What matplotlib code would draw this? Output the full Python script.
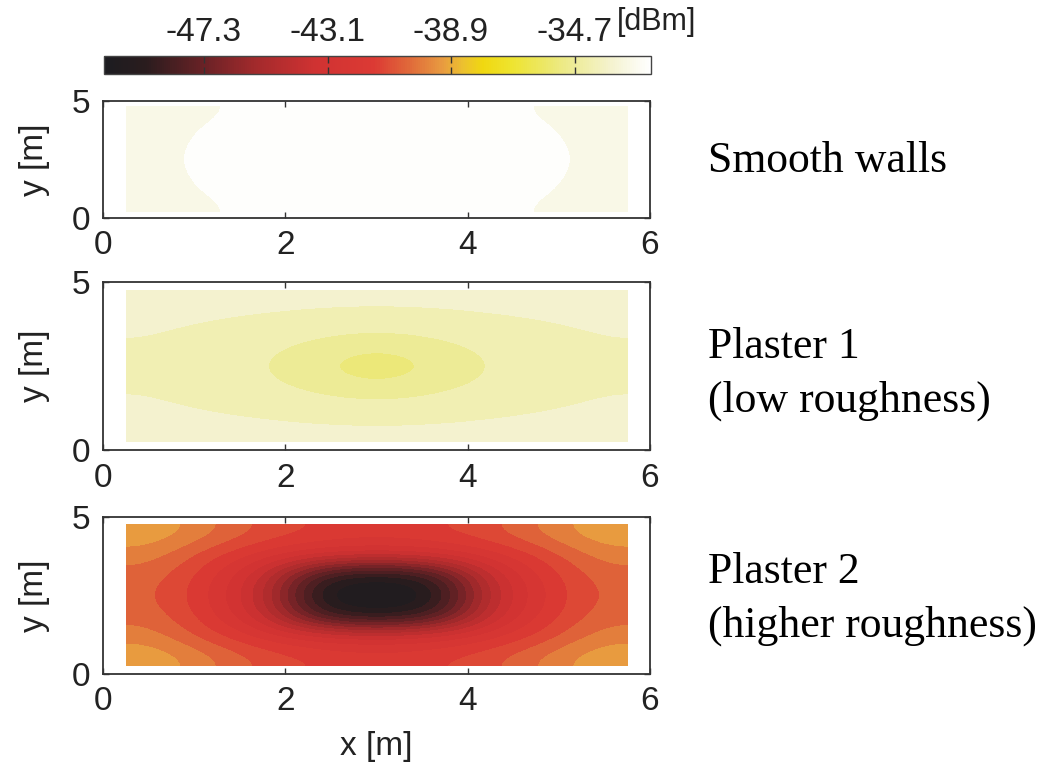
import numpy as np
import matplotlib
matplotlib.use("Agg")
import matplotlib.pyplot as plt
from matplotlib.colors import LinearSegmentedColormap, BoundaryNorm, Normalize
from matplotlib.cm import ScalarMappable

plt.rcParams['font.family'] = ['Liberation Sans', 'DejaVu Sans']

# colour scale [dBm]
vmin, vmax = -50.7, -32.1
cbar_ticks = [-47.3, -43.1, -38.9, -34.7]

# simulated area inside the room [m]
room_x = [0.25, 5.75]
room_y = [0.25, 4.75]

# received power, 9 x 7 cells, rows from bottom to top [dBm]
smooth = [
    [-33.00, -32.76, -32.55, -32.47, -32.45, -32.47, -32.55, -32.76, -33.00],
    [-32.95, -32.65, -32.50, -32.44, -32.42, -32.44, -32.50, -32.65, -32.95],
    [-32.92, -32.58, -32.46, -32.42, -32.40, -32.42, -32.46, -32.58, -32.92],
    [-32.90, -32.55, -32.45, -32.40, -32.40, -32.40, -32.45, -32.55, -32.90],
    [-32.92, -32.58, -32.46, -32.42, -32.40, -32.42, -32.46, -32.58, -32.92],
    [-32.95, -32.65, -32.50, -32.44, -32.42, -32.44, -32.50, -32.65, -32.95],
    [-33.00, -32.76, -32.55, -32.47, -32.45, -32.47, -32.55, -32.76, -33.00],
]
plaster1 = [
    [-33.55, -33.65, -33.72, -33.78, -33.80, -33.78, -33.72, -33.65, -33.55],
    [-33.85, -34.00, -34.15, -34.28, -34.33, -34.28, -34.15, -34.00, -33.85],
    [-34.00, -34.25, -34.45, -34.70, -34.95, -34.70, -34.45, -34.25, -34.00],
    [-34.10, -34.35, -34.55, -35.10, -36.00, -35.10, -34.55, -34.35, -34.10],
    [-34.00, -34.25, -34.45, -34.70, -34.95, -34.70, -34.45, -34.25, -34.00],
    [-33.85, -34.00, -34.15, -34.28, -34.33, -34.28, -34.15, -34.00, -33.85],
    [-33.55, -33.65, -33.72, -33.78, -33.80, -33.78, -33.72, -33.65, -33.55],
]
plaster2 = [
    [-39.0, -40.0, -41.0, -41.5, -41.7, -41.5, -41.0, -40.0, -39.0],
    [-39.8, -41.2, -42.3, -43.0, -43.3, -43.0, -42.3, -41.2, -39.8],
    [-40.4, -41.8, -43.8, -48.6, -49.6, -48.6, -43.8, -41.8, -40.4],
    [-40.6, -42.0, -44.3, -50.0, -50.6, -50.0, -44.3, -42.0, -40.6],
    [-40.4, -41.8, -43.8, -48.6, -49.6, -48.6, -43.8, -41.8, -40.4],
    [-39.8, -41.2, -42.3, -43.0, -43.3, -43.0, -42.3, -41.2, -39.8],
    [-39.0, -40.0, -41.0, -41.5, -41.7, -41.5, -41.0, -40.0, -39.0],
]

maps = [smooth, plaster1, plaster2]
labels = [["Smooth walls"], ["Plaster 1", "(low roughness)"], ["Plaster 2", "(higher roughness)"]]

# colormap black -> red -> yellow -> white
anchor_db = [-50.7, -49.3, -47.3, -45.5, -43.5, -41.5, -40.3, -39.2, -38.5, -37.8,
             -36.8, -35.5, -34.7, -33.5, -32.7, -32.1]
anchor_col = ['#1c1c20', '#2a1c1e', '#6a2226', '#a42a2c', '#d03232', '#dc3a34',
              '#e06a3a', '#e89a40', '#ecc030', '#f0d810', '#eee430', '#ece870',
              '#eeec98', '#f4f2cc', '#faf9ea', '#ffffff']
pos = [(v - vmin) / (vmax - vmin) for v in anchor_db]
cmap = LinearSegmentedColormap.from_list("pw", list(zip(pos, anchor_col)))
levels = np.linspace(vmin, vmax, 31)
bnorm = BoundaryNorm(levels, cmap.N)

fig = plt.figure(figsize=(10.39, 7.64), dpi=100)
W, H = 1039, 764

# axes boxes in pixels: top, bottom
boxes = [(101, 218), (282, 450), (517, 674)]
left, right = 103, 650
text_base = [[172], [358, 412], [583, 637]]

for i, (top, bot) in enumerate(boxes):
    ax = fig.add_axes([left / W, 1 - bot / H, (right - left) / W, (bot - top) / H])
    ax.imshow(np.array(maps[i]), cmap=cmap, norm=bnorm, origin='lower',
              extent=(room_x[0], room_x[1], room_y[0], room_y[1]), aspect='auto',
              interpolation='bicubic', interpolation_stage='data')
    ax.set_xlim(0, 6)
    ax.set_ylim(0, 5)
    ax.set_xticks([0, 2, 4, 6])
    ax.set_yticks([0, 5])
    ax.tick_params(direction='in', top=True, right=True, length=4, width=1,
                   labelsize=24, colors='#333333', labelcolor='#222222')
    ax.tick_params(axis='x', pad=9)
    ax.tick_params(axis='y', pad=9)
    for s in ['left', 'bottom']:
        ax.spines[s].set_color('#333333')
        ax.spines[s].set_linewidth(1.3)
    for s in ['top', 'right']:
        ax.spines[s].set_color('#333333')
        ax.spines[s].set_linewidth(1.3)
        ax.spines[s].set_linestyle((0, (1, 1)))
    ax.set_ylabel("y [m]", fontsize=24, color='#222222')
    ax.yaxis.set_label_coords(-0.097, 0.5)
    if i == 2:
        ax.set_xlabel("x [m]", fontsize=24, color='#222222')
        ax.xaxis.set_label_coords(0.5, -0.36)
    for line, yb in zip(labels[i], text_base[i]):
        fig.text(708 / W, 1 - yb / H, line, fontsize=31.5, family='Liberation Serif',
                 va='baseline', ha='left', color='black')

# colorbar on top
cax = fig.add_axes([104 / W, 1 - 74 / H, (651 - 104) / W, 18 / H])
sm = ScalarMappable(norm=Normalize(vmin, vmax), cmap=cmap)
cb = fig.colorbar(sm, cax=cax, orientation='horizontal', ticks=cbar_ticks)
cb.ax.xaxis.set_ticks_position('both')
cb.ax.tick_params(direction='in', length=5, width=1, labelsize=24, pad=6,
                  labeltop=True, labelbottom=False, colors='#333333', labelcolor='#222222')
cb.ax.set_xticklabels([f"{t:.1f}" for t in cbar_ticks])
cb.outline.set_edgecolor('#444444')
cb.outline.set_linewidth(1.0)
fig.text(617 / W, 1 - 22 / H, "[dBm]", fontsize=22, va='center', ha='left', color='#222222')

fig.savefig("out.png", dpi=100)
